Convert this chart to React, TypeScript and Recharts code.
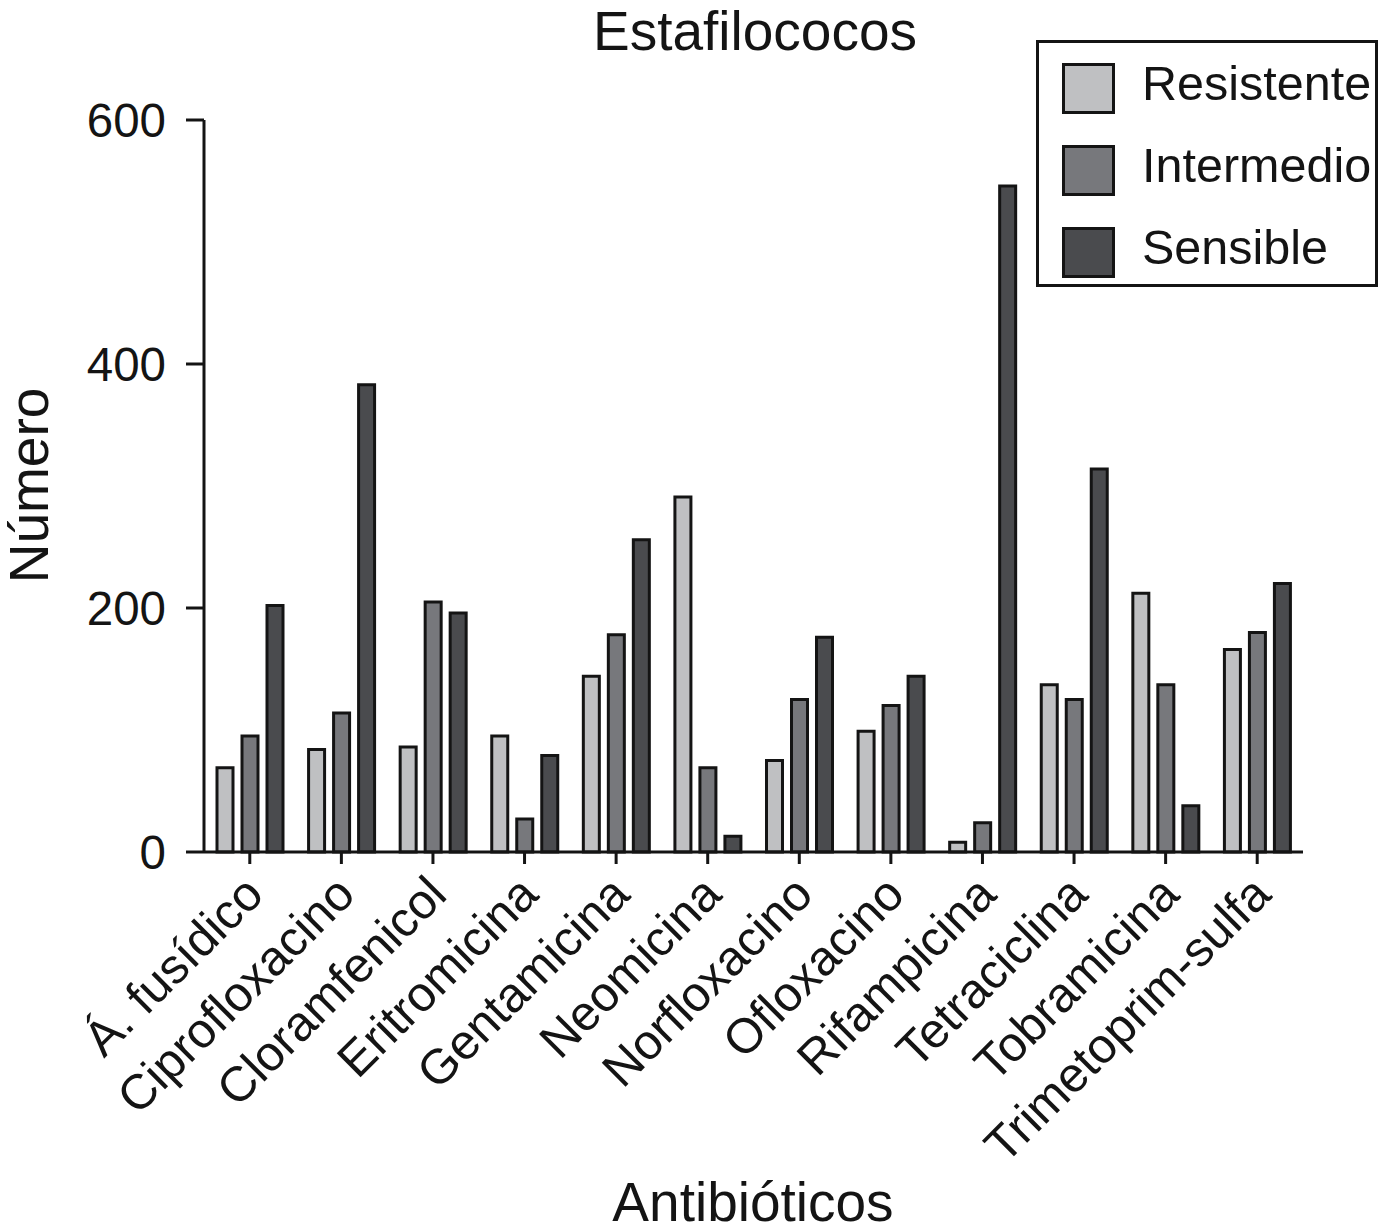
import { BarChart, Bar, XAxis, YAxis, Legend } from 'recharts';

document.body.style.margin = '0';

const FONT = '"Liberation Sans", Arial, Helvetica, sans-serif';
const INK = '#141414';

const antibioticos = [
  'Á. fusídico',
  'Ciprofloxacino',
  'Cloramfenicol',
  'Eritromicina',
  'Gentamicina',
  'Neomicina',
  'Norfloxacino',
  'Ofloxacino',
  'Rifampicina',
  'Tetraciclina',
  'Tobramicina',
  'Trimetoprim-sulfa',
];
const resistente = [69, 84, 86, 95, 144, 291, 75, 99, 8, 137, 212, 166];
const intermedio = [95, 114, 205, 27, 178, 69, 125, 120, 24, 125, 137, 180];
const sensible = [202, 383, 196, 79, 256, 13, 176, 144, 546, 314, 38, 220];
const yTicks = [0, 200, 400, 600];

const series = [
  { key: 'resistente', name: 'Resistente', fill: '#bfc0c2' },
  { key: 'intermedio', name: 'Intermedio', fill: '#77787c' },
  { key: 'sensible', name: 'Sensible', fill: '#4a4b4e' },
];

const data = antibioticos.map((name, i) => ({
  name,
  resistente: resistente[i],
  intermedio: intermedio[i],
  sensible: sensible[i],
}));

// rotated category labels, ending just right of the tick
function RotatedTick(props: any) {
  const { x, y, payload } = props;
  const px = x + 16;
  const py = y + 31;
  return (
    <text
      x={px}
      y={py}
      transform={`rotate(-45, ${px}, ${py})`}
      textAnchor="end"
      fontSize={49}
      fontFamily={FONT}
      fill={INK}
    >
      {payload.value}
    </text>
  );
}

function LegendBox() {
  return (
    <div
      style={{
        width: 336,
        height: 241,
        border: `3px solid ${INK}`,
        background: '#fff',
        position: 'relative',
        fontFamily: FONT,
      }}
    >
      {series.map((s, i) => (
        <div key={s.key}>
          <div
            style={{
              position: 'absolute',
              left: 23,
              top: 20 + i * 82,
              width: 47,
              height: 45,
              background: s.fill,
              border: `3px solid ${INK}`,
            }}
          />
          <div
            style={{
              position: 'absolute',
              left: 103,
              top: 10 + i * 82,
              fontSize: 48.5,
              lineHeight: '60px',
              color: INK,
              whiteSpace: 'nowrap',
            }}
          >
            {s.name}
          </div>
        </div>
      ))}
    </div>
  );
}

const labelStyle = {
  position: 'absolute' as const,
  fontFamily: FONT,
  fontSize: 55,
  lineHeight: '55px',
  color: INK,
  textAlign: 'center' as const,
  whiteSpace: 'nowrap' as const,
  width: 400,
  height: 55,
};

export default function App() {
  return (
    <div style={{ position: 'relative', width: 1381, height: 1232, background: '#fff' }}>
      <BarChart
        width={1381}
        height={1232}
        data={data}
        margin={{ top: 120, right: 78, left: 0, bottom: 0 }}
        barSize={16}
        barGap={9}
      >
        <XAxis
          dataKey="name"
          height={380}
          interval={0}
          tickSize={12}
          axisLine={{ stroke: INK, strokeWidth: 3 }}
          tickLine={{ stroke: INK, strokeWidth: 3 }}
          tick={<RotatedTick />}
        />
        <YAxis
          width={204}
          domain={[0, 600]}
          ticks={yTicks}
          tickSize={18}
          tickMargin={20}
          axisLine={{ stroke: INK, strokeWidth: 3 }}
          tickLine={{ stroke: INK, strokeWidth: 3 }}
          tick={{ fontSize: 47.5, fontFamily: FONT, fill: INK }}
        />
        <Legend
          layout="vertical"
          align="center"
          verticalAlign="middle"
          wrapperStyle={{ position: 'absolute', left: 1036, top: 40, width: 342 }}
          content={() => <LegendBox />}
        />
        {series.map((s) => (
          <Bar
            key={s.key}
            dataKey={s.key}
            name={s.name}
            fill={s.fill}
            stroke={INK}
            strokeWidth={3}
            isAnimationActive={false}
          />
        ))}
      </BarChart>
      <div style={{ ...labelStyle, left: 555, top: 4 }}>Estafilococos</div>
      <div style={{ ...labelStyle, left: 553, top: 1175 }}>Antibióticos</div>
      <div
        style={{
          ...labelStyle,
          width: 300,
          left: 29 - 150,
          top: 485 - 27.5,
          transform: 'rotate(-90deg)',
        }}
      >
        Número
      </div>
    </div>
  );
}
